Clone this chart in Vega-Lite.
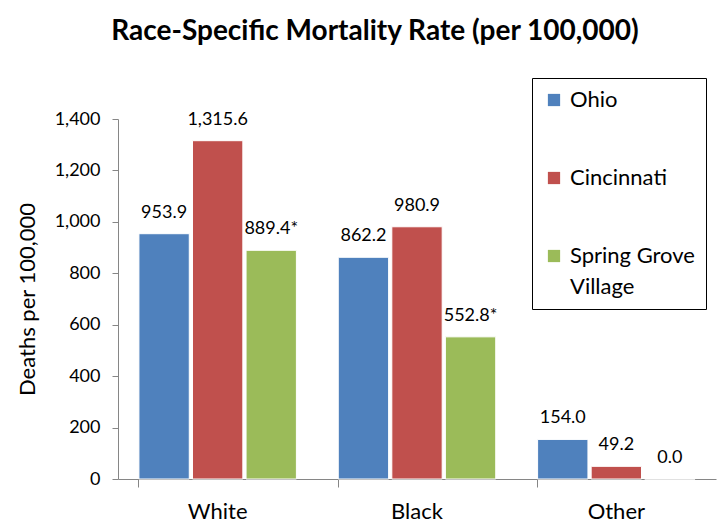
{
  "$schema": "https://vega.github.io/schema/vega-lite/v6.json",
  "autosize": {"type": "none"},
  "width": 598,
  "height": 360,
  "padding": {"left": 118, "top": 119, "right": 7, "bottom": 52},
  "background": "white",
  "title": {
    "text": "Race-Specific Mortality Rate (per 100,000)",
    "font": "Lato",
    "fontSize": 28,
    "fontWeight": "bold",
    "color": "#000000",
    "anchor": "middle",
    "dx": -42,
    "offset": 32
  },
  "data": {
    "values": [
      {"race": "White", "area": "Ohio", "rate": 953.9, "label": "953.9"},
      {"race": "White", "area": "Cincinnati", "rate": 1315.6, "label": "1,315.6"},
      {"race": "White", "area": "Spring Grove Village", "rate": 889.4, "label": "889.4*"},
      {"race": "Black", "area": "Ohio", "rate": 862.2, "label": "862.2"},
      {"race": "Black", "area": "Cincinnati", "rate": 980.9, "label": "980.9"},
      {"race": "Black", "area": "Spring Grove Village", "rate": 552.8, "label": "552.8*"},
      {"race": "Other", "area": "Ohio", "rate": 154.0, "label": "154.0"},
      {"race": "Other", "area": "Cincinnati", "rate": 49.2, "label": "49.2"},
      {"race": "Other", "area": "Spring Grove Village", "rate": 0.0, "label": "0.0"}
    ]
  },
  "encoding": {
    "x": {
      "field": "race",
      "type": "nominal",
      "sort": ["White", "Black", "Other"],
      "scale": {"paddingInner": 0.21, "paddingOuter": 0.105},
      "axis": {
        "title": null,
        "labelAngle": 0,
        "labelFont": "Lato",
        "labelFontSize": 22,
        "labelColor": "#000000",
        "labelPadding": 14,
        "bandPosition": 0,
        "tickSize": 8,
        "tickColor": "#868686",
        "domainColor": "#868686"
      }
    },
    "xOffset": {
      "field": "area",
      "type": "nominal",
      "sort": ["Ohio", "Cincinnati", "Spring Grove Village"],
      "scale": {"paddingInner": 0.06}
    },
    "y": {
      "field": "rate",
      "type": "quantitative",
      "scale": {"domain": [0, 1400]},
      "axis": {
        "title": "Deaths per 100,000",
        "titleFont": "Lato",
        "titleFontSize": 22,
        "titleFontWeight": "normal",
        "titleColor": "#000000",
        "titlePadding": 15,
        "values": [0, 200, 400, 600, 800, 1000, 1200, 1400],
        "format": ",.0f",
        "grid": false,
        "labelFont": "Lato",
        "labelFontSize": 18,
        "labelColor": "#000000",
        "labelPadding": 12,
        "tickSize": 6,
        "tickColor": "#868686",
        "domainColor": "#868686"
      }
    }
  },
  "layer": [
    {
      "mark": {"type": "bar", "stroke": "white", "strokeWidth": 1},
      "encoding": {
        "color": {
          "field": "area",
          "type": "nominal",
          "sort": ["Ohio", "Cincinnati", "Spring Grove Village"],
          "scale": {"domain": ["Ohio", "Cincinnati", "Spring Grove Village"], "range": ["#4F81BD", "#C0504D", "#9BBB59"]},
          "legend": {
            "title": null,
            "orient": "none",
            "legendX": 414,
            "legendY": -41,
            "strokeColor": "#000000",
            "fillColor": "white",
            "padding": 11,
            "symbolType": "square",
            "symbolSize": 150,
            "symbolStrokeWidth": 0,
            "labelFont": "Lato",
            "labelFontSize": 22,
            "labelColor": "#000000",
            "labelLimit": 200,
            "rowPadding": 56,
            "labelOffset": 5,
            "labelExpr": "datum.label == 'Spring Grove Village' ? ['Spring Grove', 'Village'] : datum.label"
          }
        }
      }
    },
    {
      "mark": {"type": "text", "baseline": "bottom", "dy": -12, "font": "Lato", "fontSize": 18, "color": "#000000"},
      "encoding": {"text": {"field": "label"}}
    }
  ],
  "config": {
    "view": {"stroke": null},
    "style": {"guide-label": {"lineHeight": 31}}
  }
}
